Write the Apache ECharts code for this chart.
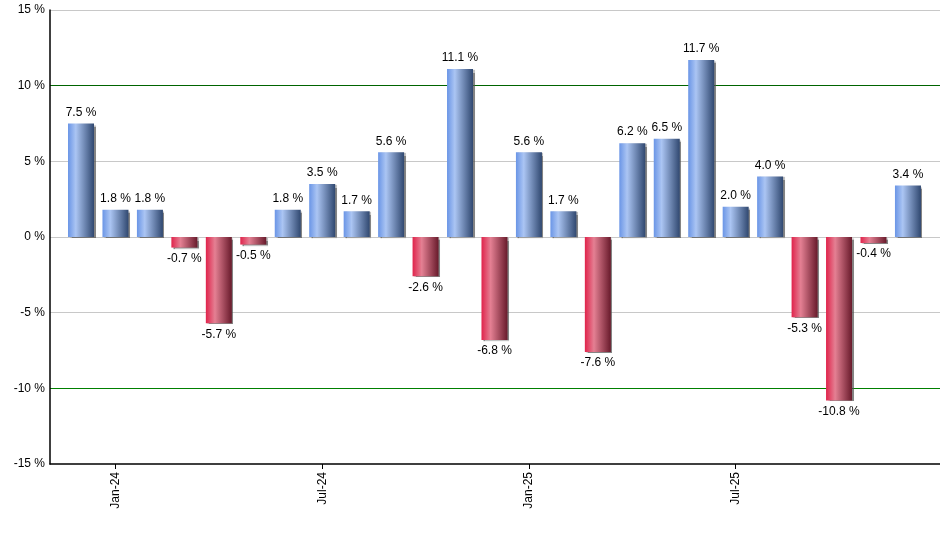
<!DOCTYPE html>
<html>
<head>
<meta charset="utf-8">
<script src="https://cdn.jsdelivr.net/npm/echarts@6/dist/echarts.min.js"></script>
<style>html,body{margin:0;padding:0;background:#fff}#c{width:940px;height:550px}</style>
</head>
<body>
<div id="c"></div>
<script>
const months = ['Dec-23','Jan-24','Feb-24','Mar-24','Apr-24','May-24','Jun-24','Jul-24','Aug-24','Sep-24','Oct-24','Nov-24','Dec-24','Jan-25','Feb-25','Mar-25','Apr-25','May-25','Jun-25','Jul-25','Aug-25','Sep-25','Oct-25','Nov-25','Dec-25'];
const returns = [7.5,1.8,1.8,-0.7,-5.7,-0.5,1.8,3.5,1.7,5.6,-2.6,11.1,-6.8,5.6,1.7,-7.6,6.2,6.5,11.7,2.0,4.0,-5.3,-10.8,-0.4,3.4];
const labelTicks = [1,7,13,19];
const yTicks = [-15,-10,-5,0,5,10,15];

const chart = echarts.init(document.getElementById('c'));
const blue = new echarts.graphic.LinearGradient(0,0,1,0,[
  {offset:0,color:'#6a95e6'},{offset:0.3,color:'#abc5f3'},{offset:1,color:'#304870'}]);
const red = new echarts.graphic.LinearGradient(0,0,1,0,[
  {offset:0,color:'#e0234b'},{offset:0.35,color:'#e48093'},{offset:1,color:'#681a2b'}]);
const data = returns.map((v,i)=>({
  value:[i,v],
  itemStyle:{color: v>=0?blue:red},
  label:{position: v>=0?'top':'bottom'}
}));
chart.setOption({
  animation:false,
  grid:{left:50,right:0,top:10,bottom:86},
  xAxis:{
    type:'value', min:-0.9, max:24.93,
    axisLine:{show:true,onZero:false,lineStyle:{color:'#000',width:1.5}},
    splitLine:{show:false},
    axisTick:{show:true,customValues:labelTicks,length:5,lineStyle:{color:'#000'}},
    axisLabel:{customValues:labelTicks,rotate:90,color:'#000',fontSize:12,fontFamily:'Liberation Sans, Arial',margin:8,
      formatter:(v)=>months[Math.round(v)]}
  },
  yAxis:{
    type:'value', min:-15, max:15, interval:5,
    axisLine:{show:true,onZero:false,lineStyle:{color:'#000',width:1.5}},
    axisTick:{show:false},
    axisLabel:{color:'#000',fontSize:12,fontFamily:'Liberation Sans, Arial',margin:5,formatter:(v)=>v+' %'},
    splitLine:{show:true,lineStyle:{color:['#ffffff','#008000','#c8c8c8','#c8c8c8','#c8c8c8','#006400','#c8c8c8'],width:1}}
  },
  series:[{
    type:'bar', barWidth:26, data:data,
    itemStyle:{shadowColor:'rgba(80,80,80,0.7)',shadowOffsetX:1.5,shadowOffsetY:1,shadowBlur:1},
    label:{show:true,color:'#000',fontSize:12,fontFamily:'Liberation Sans, Arial',distance:5,
      formatter:(p)=>p.value[1].toFixed(1)+' %'}
  }]
});
</script>
</body>
</html>
